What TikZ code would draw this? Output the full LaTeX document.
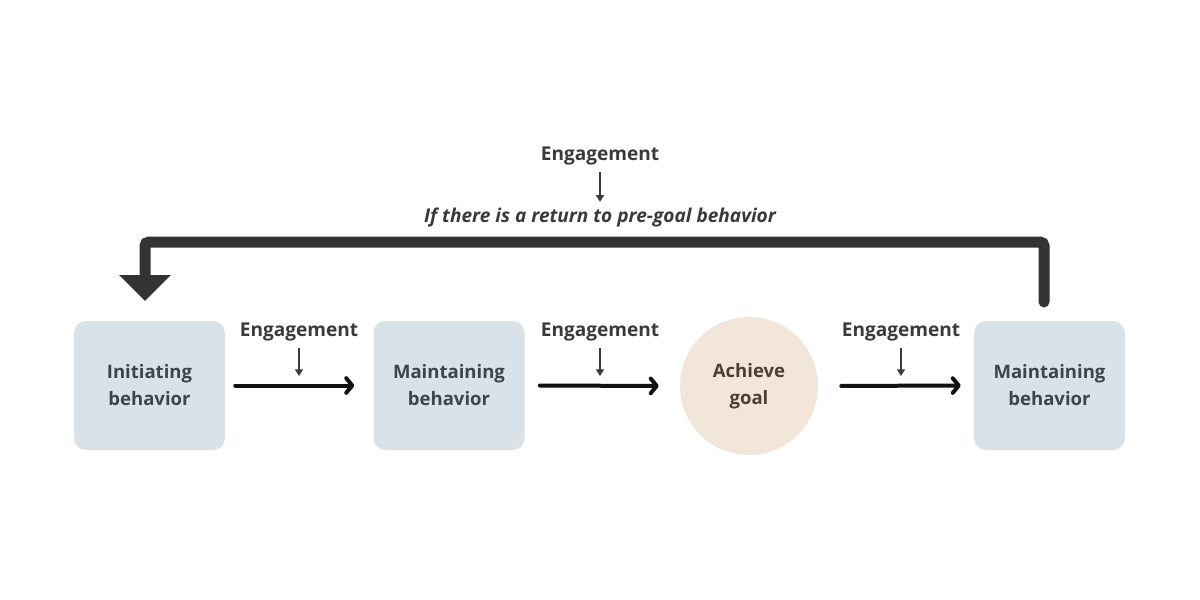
\documentclass[tikz,border=0pt]{standalone}
\usepackage{fontspec}
\setmainfont{Open Sans}
\usetikzlibrary{arrows.meta}
\definecolor{boxfill}{HTML}{D9E2E9}
\definecolor{goalfill}{HTML}{F2E5D9}
\definecolor{boxtext}{HTML}{3E444B}
\definecolor{goaltext}{HTML}{4B3F35}
\definecolor{engtext}{HTML}{3A3A3A}
\definecolor{fbline}{HTML}{333333}
\tikzset{
  stagebox/.style={fill=boxfill, rounded corners=9pt, minimum width=113.25pt, minimum height=96.75pt,
    align=center, text=boxtext, font=\bfseries\fontsize{13.9}{20.25}\selectfont, inner sep=0pt},
  goalnode/.style={circle, fill=goalfill, minimum size=103.5pt, align=center, text=goaltext,
    font=\bfseries\fontsize{13.9}{20.25}\selectfont, inner sep=0pt},
  englabel/.style={text=engtext, font=\bfseries\fontsize{14.3}{16}\selectfont, inner sep=0pt},
  mainarrow/.style={line width=3pt, black!93, line cap=round,
    -{Straight Barb[length=4.5pt 0 0, width=11pt 0 0, line cap=round, line join=round]}},
  smallarrow/.style={line width=1.1pt, engtext, -{Triangle[length=5pt 0 0, width=6pt 0 0]}},
  fbarrow/.style={line width=8.25pt, fbline, line cap=round, rounded corners=3pt,
    -{Triangle[length=19.5pt 0 0, width=37.5pt 0 0]}}
}
\begin{document}
\begin{tikzpicture}[x=0.75pt, y=-0.75pt]
\useasboundingbox (0,0) rectangle (1200,600);
\fill[white] (0,0) rectangle (1200,600);

\node[stagebox] (b1) at (149.5,385.5) {Initiating\\behavior};
\node[stagebox] (b2) at (449,385.5) {Maintaining\\behavior};
\node[goalnode] (g) at (749,386) {Achieve\\goal};
\node[stagebox] (b4) at (1049.5,385.5) {Maintaining\\behavior};

\draw[mainarrow, shorten <=7.5pt, shorten >=14.25pt] (b1.east) -- (b2.west);
\draw[mainarrow, shorten <=11.25pt, shorten >=15.75pt] (b2.east) -- (g.west);
\draw[mainarrow, shorten <=17.25pt, shorten >=9.75pt] (g.east) -- (b4.west);

\node[englabel] (e1) at (299,332) {Engagement};
\node[englabel] (e2) at (600,332) {Engagement};
\node[englabel] (e3) at (901,332) {Engagement};
\coordinate (t1) at (299,376);
\coordinate (t2) at (600,376);
\coordinate (t3) at (901,376);
\draw[smallarrow, shorten <=5pt] (e1.south) -- (t1);
\draw[smallarrow, shorten <=5pt] (e2.south) -- (t2);
\draw[smallarrow, shorten <=5pt] (e3.south) -- (t3);

\node[englabel] (et) at (600,156) {Engagement};
\node[englabel, font=\bfseries\itshape\fontsize{14.3}{16}\selectfont] (cond) at (600,217) {If there is a return to pre-goal behavior};
\draw[smallarrow, shorten <=5pt, shorten >=4pt] (et.south) -- (cond.north);

\coordinate (fs) at (1044,302);
\coordinate (fe) at (145,301);
\draw[fbarrow] (fs) -- (1044,242) -- (145,242) -- (fe);
\end{tikzpicture}
\end{document}
